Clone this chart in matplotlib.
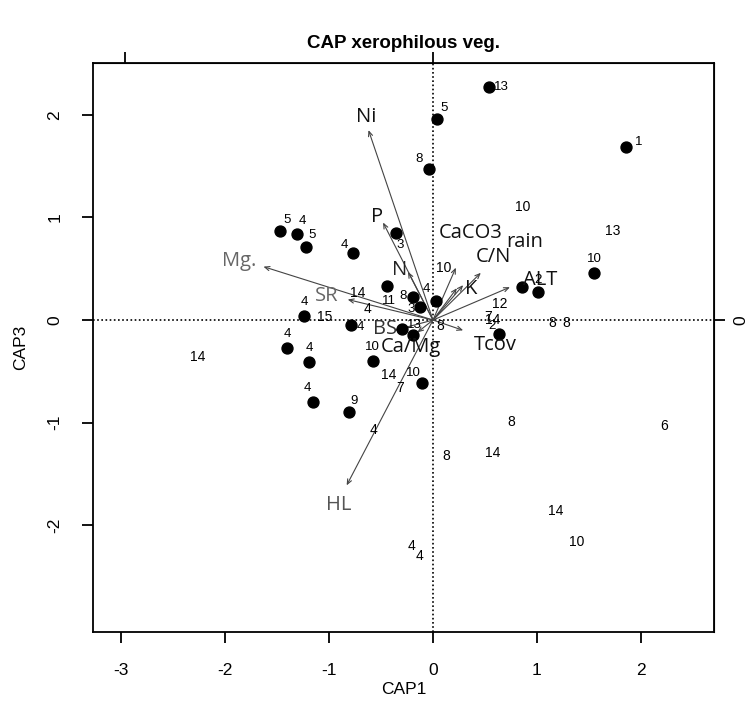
import matplotlib.pyplot as plt

# site scores shown with a filled dot
dot_x = [0.54, 0.04, -0.04, 1.86, -1.47, -1.31, -1.22, -0.77, -0.36, 1.55, 0.86, 1.01,
         0.03, 0.63, -0.44, -0.19, -0.12, -0.30, -0.19, -0.79, -0.58, -0.11, -1.24,
         -1.40, -1.19, -1.15, -0.81]
dot_y = [2.27, 1.96, 1.47, 1.69, 0.87, 0.84, 0.71, 0.65, 0.85, 0.46, 0.32, 0.27,
         0.19, -0.14, 0.33, 0.22, 0.13, -0.09, -0.15, -0.05, -0.40, -0.61, 0.04,
         -0.27, -0.41, -0.80, -0.90]
dot_lab = ["13", "5", "8", "1", "5", "4", "5", "4", "3", "10", "", "2",
           "4", "2", "11", "8", "3", "13", "", "4", "10", "10", "4",
           "4", "4", "4", "9"]
# where the number sits relative to its dot (points)
dot_off = [(9, 0), (5, 8), (-7, 7), (9, 3), (5, 8), (4, 9), (4, 9), (-6, 6), (3, -9), (0, 10),
           (0, 0), (0, 9), (-7, 8), (-5, 6), (1, -11), (-7, 1), (-7, -2), (9, 3), (0, 0),
           (7, -1), (0, 10), (-6, 7), (0, 10), (0, 10), (0, 10), (-4, 10), (4, 8)]

# site scores shown only as a number
txt_x = [-2.26, -0.72, -0.63, -1.04, 0.10, 0.64, 0.53, 0.57, 0.07, 1.15, 1.28, 0.86,
         1.73, -0.43, -0.32, -0.57, -0.21, -0.13, 0.13, 0.75, 0.57, 2.22, 1.18, 1.38]
txt_y = [-0.36, 0.26, 0.11, 0.03, 0.51, 0.16, 0.03, 0.00, -0.06, -0.03, -0.03, 1.10,
         0.87, -0.54, -0.66, -1.07, -2.20, -2.30, -1.32, -0.99, -1.29, -1.03, -1.86, -2.16]
txt_lab = ["14", "14", "4", "15", "10", "12", "7", "14", "8", "8", "8", "10",
           "13", "14", "7", "4", "4", "4", "8", "8", "14", "6", "14", "10"]

# fitted environmental vectors
env_lab = ["Ni", "P", "Mg.", "SR", "N", "CaCO3", "rain", "C/N", "K", "ALT", "Tcov", "Ca/Mg", "BS", "HL"]
env_x = [-0.62, -0.48, -1.63, -0.82, -0.24, 0.22, 0.46, 0.23, 0.29, 0.74, 0.29, -0.15, -0.37, -0.83]
env_y = [1.85, 0.95, 0.52, 0.20, 0.47, 0.51, 0.46, 0.31, 0.34, 0.32, -0.10, -0.12, -0.10, -1.61]
env_lx = [-0.64, -0.54, -1.86, -1.02, -0.32, 0.36, 0.88, 0.58, 0.37, 1.03, 0.60, -0.21, -0.46, -0.91]
env_ly = [1.98, 1.00, 0.58, 0.23, 0.49, 0.85, 0.76, 0.61, 0.30, 0.39, -0.24, -0.26, -0.09, -1.80]
env_col = ["#111111", "#111111", "#666666", "#666666", "#222222", "#111111", "#111111",
           "#111111", "#111111", "#111111", "#111111", "#111111", "#333333", "#555555"]

plt.rcParams['font.family'] = ['Liberation Sans', 'DejaVu Sans']

fig = plt.figure(figsize=(7.49, 7.04), dpi=100)
ax = fig.add_axes([0.124, 0.102, 0.829, 0.808])

ax.set_xlim(-3.27, 2.70)
ax.set_ylim(-3.04, 2.50)

ax.axhline(0, color="black", ls=(0, (1, 1.5)), lw=1.2, zorder=1)
ax.axvline(0, color="black", ls=(0, (1, 1.5)), lw=1.2, zorder=1)

for x, y, c in zip(env_x, env_y, env_col):
    ax.annotate("", xy=(x, y), xytext=(0, 0),
                arrowprops=dict(arrowstyle="->,head_length=0.35,head_width=0.15",
                                color="#444444", lw=0.8, shrinkA=0, shrinkB=0), zorder=2)
for lab, x, y, c in zip(env_lab, env_lx, env_ly, env_col):
    ax.text(x, y, lab, color=c, fontsize=14.5, ha="center", va="center",
            family=["Open Sans", "DejaVu Sans"], zorder=4)

ax.scatter(dot_x, dot_y, s=62, color="black", zorder=3)
for x, y, lab, off in zip(dot_x, dot_y, dot_lab, dot_off):
    if lab:
        ax.annotate(lab, (x, y), xytext=off, textcoords="offset points",
                    fontsize=9.5, ha="center", va="center", zorder=4)
for x, y, lab in zip(txt_x, txt_y, txt_lab):
    ax.text(x, y, lab, fontsize=10, ha="center", va="center", zorder=4)

for s in ax.spines.values():
    s.set_linewidth(1.3)

ax.set_xticks([-3, -2, -1, 0, 1, 2])
ax.set_xticklabels(["-3", "-2", "-1", "0", "1", "2"])
ax.set_yticks([-2, -1, 0, 1, 2])
ax.set_yticklabels(["-2", "-1", "0", "1", "2"], rotation=90, va="center")
ax.tick_params(axis="both", length=8, width=1.3, labelsize=12.5, pad=14)

# secondary axes for the vector scale
top = ax.secondary_xaxis("top")
top.set_xticks([-2.96, 0])
top.set_xticklabels(["", ""])
top.tick_params(length=8, width=1.3)
right = ax.secondary_yaxis("right")
right.set_yticks([0])
right.set_yticklabels(["0"], rotation=90, va="center")
right.tick_params(length=8, width=1.3, labelsize=12.5, pad=6)

ax.set_xlabel("CAP1", fontsize=12.5, labelpad=3)
ax.set_ylabel("CAP3", fontsize=12.5, labelpad=14)
ax.set_title("CAP xerophilous veg.", fontsize=13.5, fontweight="bold", pad=11)

fig.savefig("out.png", dpi=100)
